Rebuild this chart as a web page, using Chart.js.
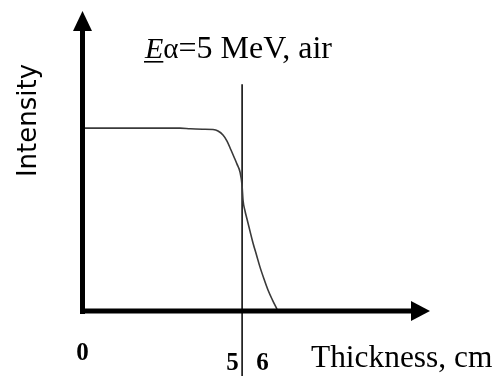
<!DOCTYPE html>
<html>
<head>
<meta charset="utf-8">
<script src="https://cdn.jsdelivr.net/npm/chart.js@4"></script>
<style>
  html, body { margin:0; padding:0; background:#fff; }
  #wrap { width:496px; height:376px; }
</style>
</head>
<body>
<div id="wrap"><canvas id="chart" width="496" height="376"></canvas></div>
<script>
// alpha transmission curve
const thickness = [0, 3.25, 3.6, 4.0, 4.35, 4.517, 4.683, 4.817, 4.95, 5.05, 5.15, 5.25, 5.317, 5.35, 5.417, 5.483, 5.583, 5.683, 5.8, 5.917, 6.05, 6.183, 6.333, 6.483];
const intensity = [1.0, 1.0, 0.996, 0.994, 0.992, 0.984, 0.962, 0.929, 0.880, 0.842, 0.803, 0.760, 0.689, 0.607, 0.547, 0.503, 0.437, 0.372, 0.306, 0.240, 0.175, 0.115, 0.060, 0.011];

// mean range marker
const rangeX = [5.32, 5.32];
const rangeY = [1.24, -0.36];

const xTicks = [0, 5, 6];
const xTickLabels = ['0', '5', '6'];

const xTitle = 'Thickness, cm';
const yTitle = 'Intensity';
const titleMain = '=5 MeV, air';

const el = id => document.getElementById(id);
const SERIF = '"Liberation Serif", "Times New Roman", serif';

// axes with arrowheads + all text
const decor = {
  id: 'decor',
  afterDraw(chart){
    const ctx = chart.ctx;
    const xs = chart.scales.x, ys = chart.scales.y;
    const x0 = xs.getPixelForValue(0), y0 = ys.getPixelForValue(0);
    ctx.save();
    ctx.fillStyle = '#000';
    ctx.strokeStyle = '#000';
    ctx.lineWidth = 5;
    ctx.lineCap = 'butt';
    // y axis
    ctx.beginPath();
    ctx.moveTo(x0, y0 + 3);
    ctx.lineTo(x0, 28);
    ctx.stroke();
    ctx.beginPath();
    ctx.moveTo(x0, 11); ctx.lineTo(x0 - 9.5, 31); ctx.lineTo(x0 + 9.5, 31); ctx.closePath();
    ctx.fill();
    // x axis
    ctx.beginPath();
    ctx.moveTo(x0 - 2.5, y0);
    ctx.lineTo(413, y0);
    ctx.stroke();
    ctx.beginPath();
    ctx.moveTo(430, y0); ctx.lineTo(411, y0 - 10); ctx.lineTo(411, y0 + 10); ctx.closePath();
    ctx.fill();

    // tick labels
    ctx.font = 'bold 25px ' + SERIF;
    ctx.textAlign = 'center';
    ctx.textBaseline = 'alphabetic';
    xTicks.forEach((v, i) => {
      const px = xs.getPixelForValue(v);
      ctx.fillText(xTickLabels[i], px, i === 0 ? 360 : 370);
    });

    // x title
    ctx.font = '31.4px ' + SERIF;
    ctx.textAlign = 'left';
    ctx.fillText(xTitle, 311, 367);

    // chart title: underlined italic E, alpha, rest
    let tx = 145;
    ctx.font = 'italic 30px ' + SERIF;
    ctx.fillText('E', tx, 58);
    const wE = ctx.measureText('E').width;
    ctx.fillRect(tx - 1, 61, wE + 1, 1.6);
    tx += wE;
    ctx.font = '29px ' + SERIF;
    ctx.fillText('\u03b1', tx, 58);
    tx += ctx.measureText('\u03b1').width;
    ctx.font = '32px ' + SERIF;
    ctx.fillText(titleMain, tx, 58);

    // y title, rotated
    ctx.translate(36, 120.5);
    ctx.rotate(-Math.PI / 2);
    ctx.font = '26px "DejaVu Sans", sans-serif';
    ctx.textAlign = 'center';
    ctx.fillText(yTitle, 0, 0);
    ctx.restore();
  }
};

new Chart(el('chart').getContext('2d'), {
  type: 'line',
  data: {
    datasets: [
      {
        data: thickness.map((x, i) => ({ x, y: intensity[i] })),
        borderColor: '#3a3a3a', borderWidth: 1.6, pointRadius: 0,
        cubicInterpolationMode: 'monotone', fill: false
      },
      {
        data: rangeX.map((x, i) => ({ x, y: rangeY[i] })),
        borderColor: '#000', borderWidth: 1.5, pointRadius: 0, fill: false
      }
    ]
  },
  options: {
    responsive: false,
    animation: false,
    layout: { padding: 0 },
    plugins: { legend: { display: false }, tooltip: { enabled: false } },
    scales: {
      x: { type: 'linear', min: -2.75, max: 13.783, display: false },
      y: { type: 'linear', min: -0.355, max: 1.7, display: false }
    }
  },
  plugins: [decor]
});
</script>
</body>
</html>
